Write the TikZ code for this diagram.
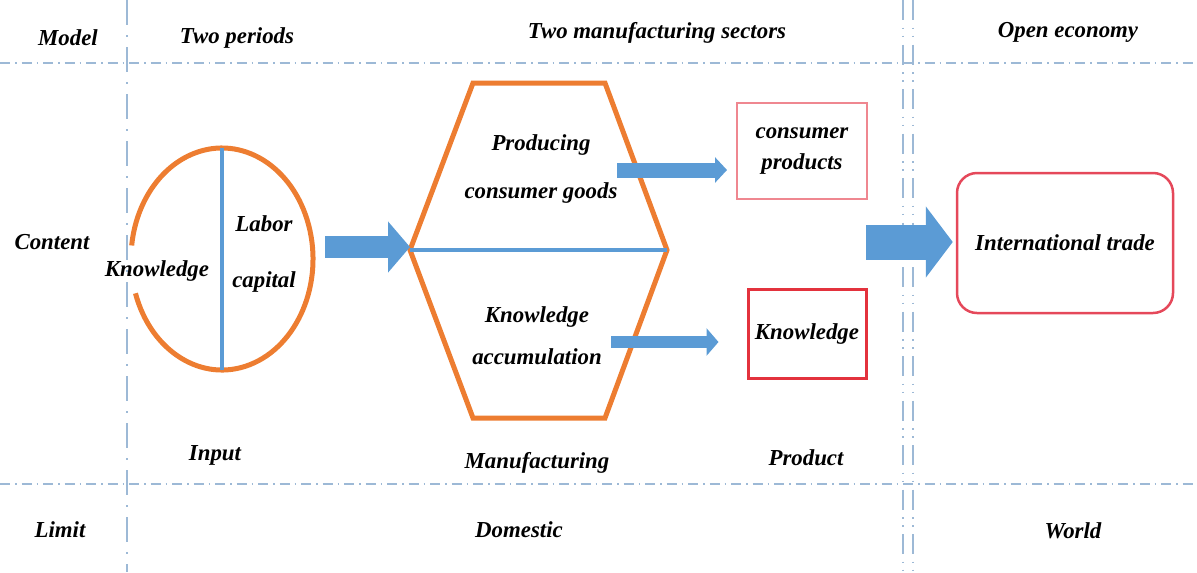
\documentclass[tikz,border=0pt]{standalone}
\usepackage{fontspec}
\setmainfont{Liberation Serif}
\usepackage{xcolor}
\usepackage{tikz}
\usetikzlibrary{arrows.meta,positioning,calc}

\definecolor{hexorange}{HTML}{ED7D31}
\definecolor{flowblue}{HTML}{5B9BD5}
\definecolor{gridblue}{HTML}{9DB9D6}
\definecolor{boxpink}{HTML}{EF8790}
\definecolor{boxred}{HTML}{E3323D}
\definecolor{tradered}{HTML}{E5485A}

\begin{document}
\begin{tikzpicture}[x=0.2mm,y=-0.2mm,
    lab/.style={font=\fontsize{13}{16}\selectfont\bfseries\itshape, align=center, inner sep=0pt},
    labsp/.style={lab, font=\fontsize{13}{#1}\selectfont\bfseries\itshape},
    hline/.style={gridblue, line width=0.3mm, dash pattern=on 2mm off 1mm on 0.3mm off 1mm},
    vline/.style={gridblue, line width=0.4mm, dash pattern=on 5mm off 2mm on 0.4mm off 2mm},
    dline/.style={gridblue, line width=0.4mm, dash pattern=on 4mm off 1.5mm on 0.3mm off 1.3mm on 0.3mm off 1.5mm},
    fat/.style={flowblue, line width=#1}]
    \useasboundingbox (0,0) rectangle (1197,572);

    % grid
    \draw[hline] (0,63) -- (1197,63);
    \draw[hline] (0,484) -- (1197,484);
    \draw[vline] (127,0) -- (127,572);
    \draw[dline] (903,0) -- (903,572);
    \draw[dline] (913,0) -- (913,572);

    % headings
    \node[lab] (model) at (68,38) {Model};
    \node[lab] (periods) at (237,38) {Two periods};
    \node[lab] (sectors) at (657,33) {Two manufacturing sectors};
    \node[lab] (open) at (1068,32) {Open economy};
    \node[lab] (content) at (52,242) {Content};
    \node[lab] (limit) at (60,530) {Limit};
    \node[lab] (domestic) at (519,530) {Domestic};
    \node[lab] (world) at (1073,531) {World};
    \node[lab] (input) at (215,455) {Input};
    \node[lab] (manuf) at (537,463) {Manufacturing};
    \node[lab] (product) at (806,458) {Product};

    % input
    \draw[hexorange, line width=1mm] (222,259) ++(198:18.2mm and 22.2mm)
        arc[start angle=198, end angle=533, x radius=18.2mm, y radius=22.2mm];
    \draw[flowblue, line width=0.8mm] (222,148) -- (222,370);
    \node[lab] (know) at (157,271) {Knowledge};
    \node[labsp=31.7pt] (labor) at (264,254) {Labor\\capital};

    % manufacturing
    \coordinate (hexL) at (410,250);
    \coordinate (hexR) at (667,250);
    \draw[hexorange, line width=1mm, line join=miter] (473,83) -- (605,83) -- (hexR)
        -- (605,418) -- (473,418) -- (hexL) -- cycle;
    \draw[flowblue, line width=0.8mm] (hexL) -- (hexR);
    \node[labsp=27.2pt] (produce) at (541,169) {Producing\\consumer goods};
    \node[labsp=23.8pt] (accum) at (537,336) {Knowledge\\accumulation};

    % products
    \node[draw=boxpink, line width=0.4mm, minimum width=26mm, minimum height=19.2mm,
        labsp=17.6pt] (goods) at (802,151) {consumer\\products};
    \node[draw=boxred, line width=0.6mm, minimum width=23.6mm, minimum height=17.8mm,
        lab] (kbox) at (807,334) {Knowledge};
    \node[draw=tradered, line width=0.5mm, rounded corners=4mm, minimum width=43.2mm,
        minimum height=28mm, lab] (trade) at (1065,243) {International trade};

    % arrows
    \coordinate (a1) at (325,247);
    \coordinate (a2) at (617,170);
    \coordinate (a3) at (611,342);
    \coordinate (a4) at (866,242);
    \draw[fat=4.4mm, -{Triangle[length=4.4mm, width=10mm]}] (a1) -- (hexL |- a1);
    \draw[fat=3mm, -{Triangle[length=2.4mm, width=5mm]}, shorten >=1.8mm] (a2) -- (a2 -| goods.west);
    \draw[fat=2.4mm, -{Triangle[length=2.4mm, width=5.4mm]}, shorten >=5.6mm] (a3) -- (a3 -| kbox.west);
    \draw[fat=7mm, -{Triangle[length=5.4mm, width=14mm]}, shorten >=0.6mm] (a4) -- (a4 -| trade.west);
\end{tikzpicture}
\end{document}
